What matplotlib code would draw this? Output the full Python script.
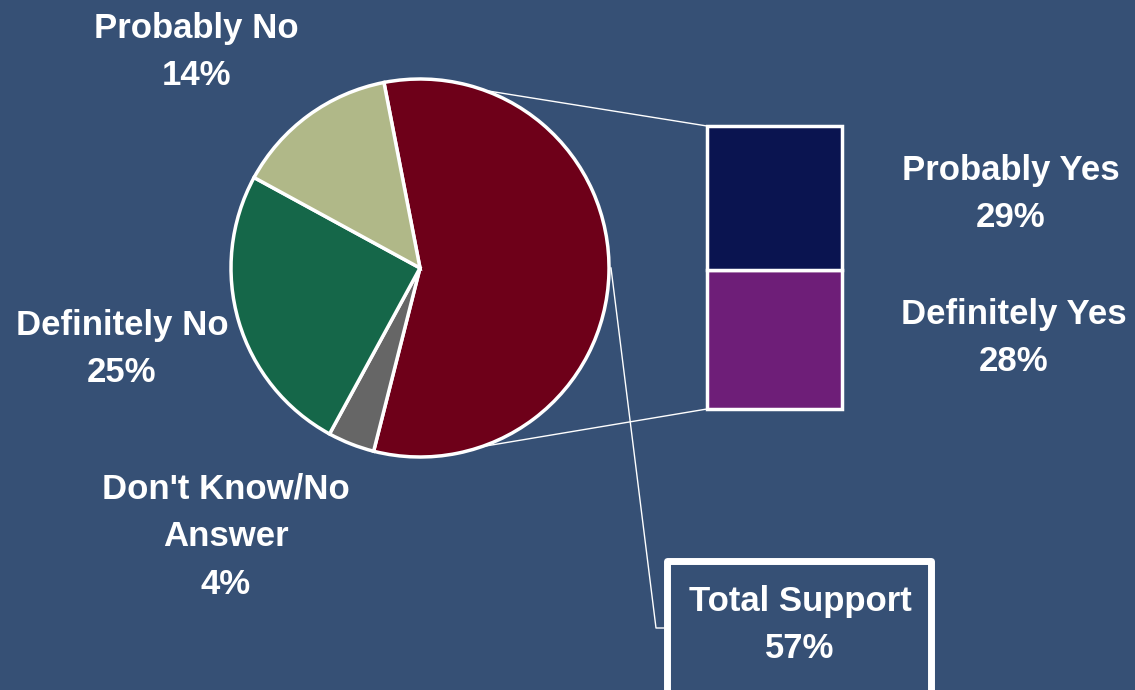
import matplotlib
matplotlib.use("Agg")
import matplotlib.pyplot as plt
from matplotlib.patches import Rectangle
import numpy as np

plt.rcParams['font.family'] = ['Liberation Sans', 'DejaVu Sans']

# ---- data ----
pie_labels = ["Total Support", "Don't Know/No\nAnswer", "Definitely No", "Probably No"]
pie_values = [57, 4, 25, 14]
pie_colors = ["#6e0019", "#666666", "#156749", "#b0b888"]

bar_labels = ["Definitely Yes", "Probably Yes"]
bar_values = [28, 29]
bar_colors = ["#6e1e78", "#0a1450"]

BG = "#365075"
W, H = 1135, 690

fig = plt.figure(figsize=(W / 100, H / 100), dpi=100, facecolor=BG)
ax = fig.add_axes([0, 0, 1, 1])
ax.set_facecolor(BG)

cx, cy, r = 420, H - 268, 189
wedges, _ = ax.pie(pie_values, colors=pie_colors, startangle=101, counterclock=False,
                   center=(cx, cy), radius=r, frame=True,
                   wedgeprops=dict(edgecolor="white", linewidth=2.5))

# stacked bar (scale: pixels per percent)
scale = 283 / sum(bar_values)
bx, bw = 774.5, 135
bottom = H - 409
for v, c in zip(bar_values, bar_colors):
    ax.bar(bx, v * scale, width=bw, bottom=bottom, color=c, edgecolor="white", linewidth=2.5, zorder=3)
    bottom += v * scale
bar_top = bottom
bar_bot = H - 409

# connector lines from pie to bar
for ang, yb in [(70, bar_top), (-71, bar_bot)]:
    a = np.deg2rad(ang)
    ax.plot([cx + r * np.cos(a), bx - bw / 2], [cy + r * np.sin(a), yb], color="white", lw=1, zorder=2)

# leader to Total Support box
ax.plot([611, 656, 667], [H - 268, H - 628, H - 628], color="white", lw=1, zorder=2)
ax.add_patch(Rectangle((667, H - 700), 264, 700 - 561, facecolor=BG, edgecolor="white",
                       linewidth=5, joinstyle="round", zorder=4))

tk = dict(color="white", fontweight="bold", ha="center", va="center", fontsize=25, linespacing=1.57)

def pct(v):
    return f"{v}%"

ax.text(196, H - 52, f"{pie_labels[3]}\n{pct(pie_values[3])}", **tk)
ax.text(122, H - 349, f"{pie_labels[2]}\n{pct(pie_values[2])}", **tk)
ax.text(226, H - 537, f"{pie_labels[1]}\n{pct(pie_values[1])}", **tk)
ax.text(1011, H - 194, f"{bar_labels[1]}\n{pct(bar_values[1])}", **tk)
ax.text(1014, H - 338, f"{bar_labels[0]}\n{pct(bar_values[0])}", **tk)
ax.text(800, H - 625, f"{pie_labels[0]}\n{pct(sum(bar_values))}", zorder=5, **tk)

ax.set_xlim(0, W)
ax.set_ylim(0, H)
ax.set_aspect("auto")
ax.axis("off")

fig.savefig("out.png", dpi=100, facecolor=BG)
